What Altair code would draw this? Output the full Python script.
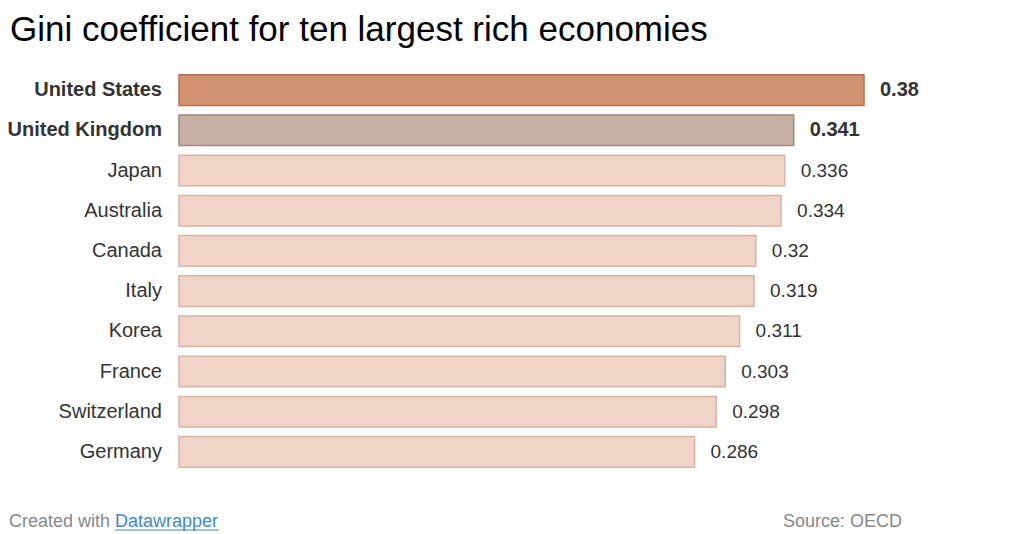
import altair as alt
import pandas as pd

countries = ["United States", "United Kingdom", "Japan", "Australia", "Canada",
             "Italy", "Korea", "France", "Switzerland", "Germany"]
gini = [0.38, 0.341, 0.336, 0.334, 0.32, 0.319, 0.311, 0.303, 0.298, 0.286]
value_labels = ["0.38", "0.341", "0.336", "0.334", "0.32", "0.319", "0.311",
                "0.303", "0.298", "0.286"]
highlight = {"United States": "us", "United Kingdom": "uk"}

title_text = "Gini coefficient for ten largest rich economies"
credit_text = "Created with"
link_text = "Datawrapper"
source_text = "Source: OECD"

df = pd.DataFrame({
    "country": countries,
    "gini": gini,
    "label": value_labels,
    "group": [highlight.get(c, "other") for c in countries],
})
df["bold"] = df["group"] != "other"

W, H = 685, 402
LEFT, TOP = 171, 62

x = alt.X("gini:Q", scale=alt.Scale(domain=[0, 0.38], nice=False, zero=True), axis=None)
y = alt.Y("country:N", sort=countries,
          scale=alt.Scale(paddingInner=0.24, paddingOuter=0.12), axis=None)

fill_scale = alt.Scale(domain=["us", "uk", "other"],
                       range=["#D29470", "#C7AFA3", "#F0D4C8"])
stroke_scale = alt.Scale(domain=["us", "uk", "other"],
                         range=["#B3714F", "#9F877B", "#D8B3A3"])

base = alt.Chart(df)

bars = base.mark_bar(strokeWidth=1.5).encode(
    x=x, y=y,
    fill=alt.Fill("group:N", scale=fill_scale, legend=None),
    stroke=alt.Stroke("group:N", scale=stroke_scale, legend=None),
)

font = "Liberation Sans"

names_bold = base.transform_filter("datum.bold").mark_text(
    align="right", baseline="middle", font=font, fontSize=20, fontWeight="bold",
    color="#333333", dx=-17
).encode(x=alt.value(0), y=y, text="country:N")

names_norm = base.transform_filter("!datum.bold").mark_text(
    align="right", baseline="middle", font=font, fontSize=20,
    color="#333333", dx=-17
).encode(x=alt.value(0), y=y, text="country:N")

vals_bold = base.transform_filter("datum.bold").mark_text(
    align="left", baseline="middle", font=font, fontSize=20, fontWeight="bold",
    color="#333333", dx=16
).encode(x=x, y=y, text="label:N")

vals_norm = base.transform_filter("!datum.bold").mark_text(
    align="left", baseline="middle", font=font, fontSize=19,
    color="#333333", dx=16
).encode(x=x, y=y, text="label:N")

one = pd.DataFrame({"t": [title_text], "c": [credit_text], "l": [link_text], "s": [source_text]})
ob = alt.Chart(one)

title = ob.mark_text(align="left", baseline="alphabetic", font=font, fontSize=35,
                     color="#000000").encode(
    x=alt.value(2 - LEFT), y=alt.value(41 - 8 - TOP), text="t:N")

credit = ob.mark_text(align="left", baseline="alphabetic", font=font, fontSize=18,
                      color="#888888").encode(
    x=alt.value(1 - LEFT), y=alt.value(527 - 8 - TOP), text="c:N")

link = ob.mark_text(align="left", baseline="alphabetic", font=font, fontSize=18,
                    color="#3F87D0").encode(
    x=alt.value(115 - 8 - LEFT), y=alt.value(527 - 8 - TOP), text="l:N")

underline = ob.mark_rule(color="#3F87D0", strokeWidth=1.2).encode(
    x=alt.value(115 - 8 - LEFT), x2=alt.value(219 - 8 - LEFT),
    y=alt.value(530 - 8 - TOP))

source = ob.mark_text(align="left", baseline="alphabetic", font=font, fontSize=18,
                      color="#888888").encode(
    x=alt.value(783 - 8 - LEFT), y=alt.value(527 - 8 - TOP), text="s:N")

chart = alt.layer(bars, names_bold, names_norm, vals_bold, vals_norm,
                  title, credit, link, underline, source).properties(
    width=W, height=H,
    background="white",
    autosize=alt.AutoSizeParams(type="none"),
    padding={"left": LEFT, "top": TOP, "right": 1024 - 16 - LEFT - W, "bottom": 60},
).configure_view(strokeWidth=0, stroke=None)

chart.save("out.html", embed_options={"renderer": "svg", "actions": False})
